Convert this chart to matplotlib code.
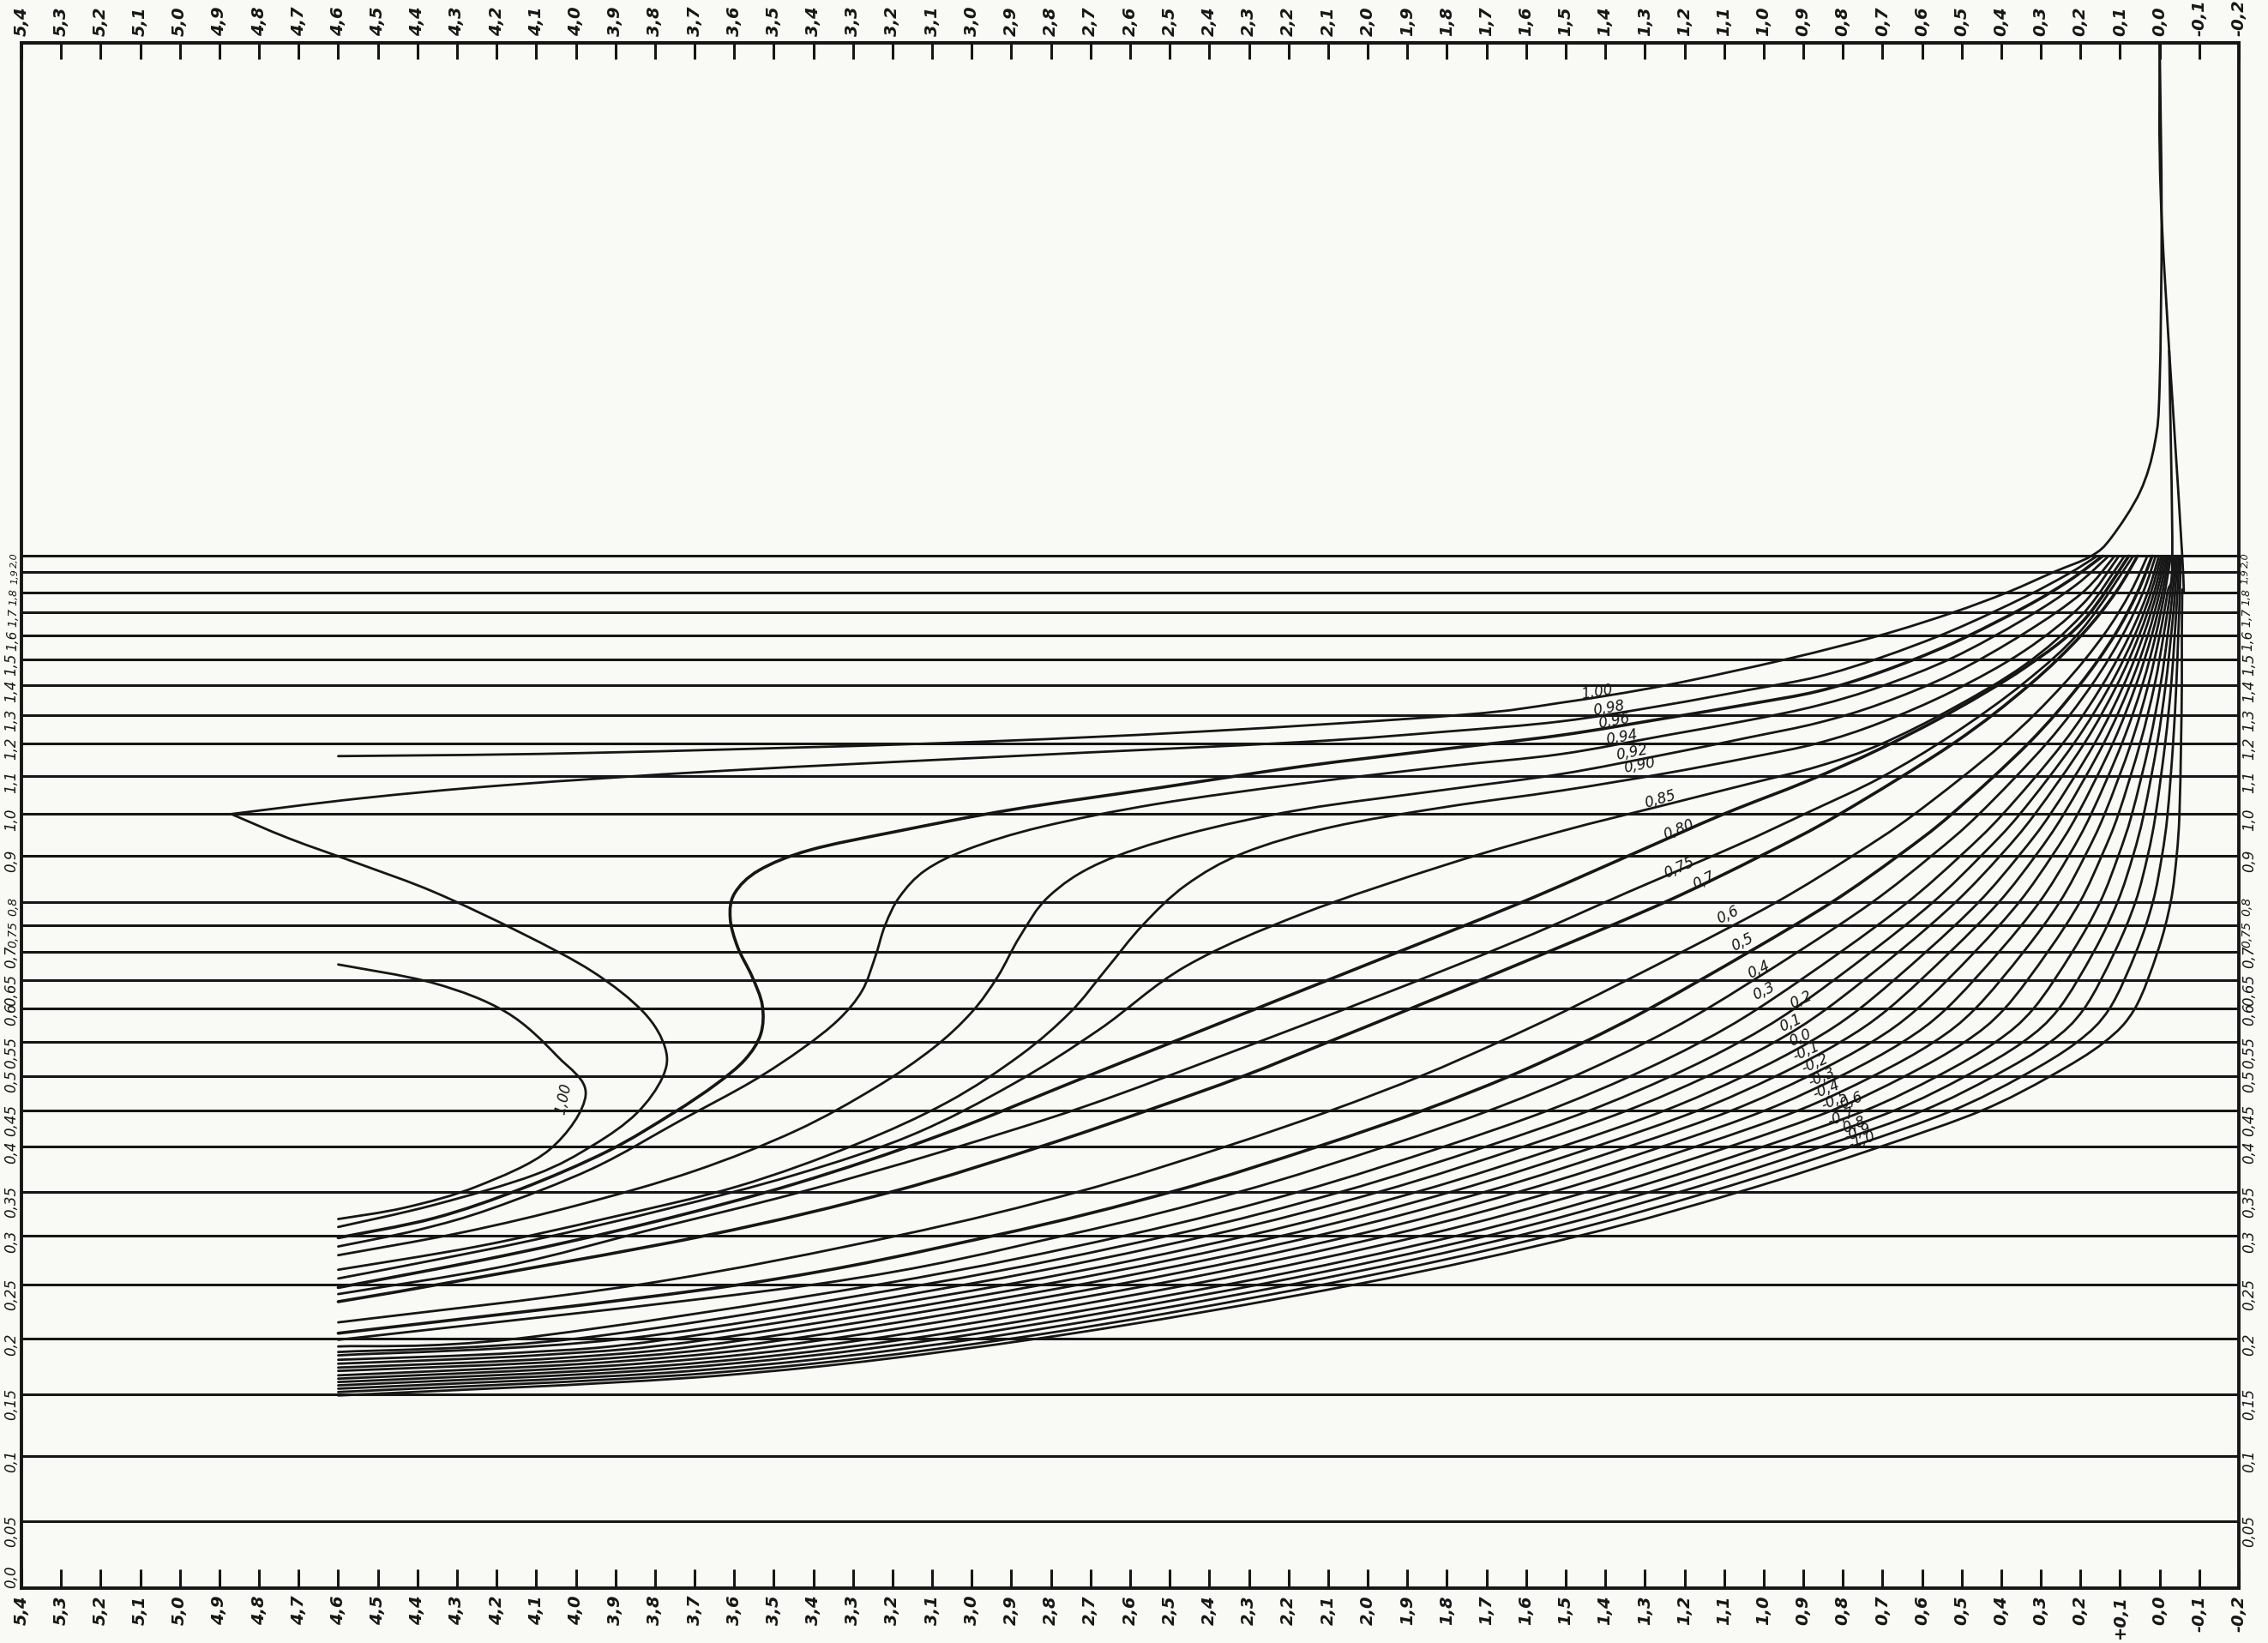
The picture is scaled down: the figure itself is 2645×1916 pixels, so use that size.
import numpy as np
import matplotlib
matplotlib.use("Agg")
import matplotlib.pyplot as plt
from matplotlib.path import Path
from matplotlib.patches import PathPatch

plt.rcParams['font.family'] = ['DejaVu Sans']
plt.rcParams['font.style'] = 'italic'

INK = '#161616'
PAPER = '#f9f9f6'

# ---------------------------------------------------------------- ruling
levels = [0.0, 0.05, 0.1, 0.15, 0.2, 0.25, 0.3, 0.35, 0.4, 0.45, 0.5, 0.55,
          0.6, 0.65, 0.7, 0.75, 0.8, 0.9, 1.0, 1.1, 1.2, 1.3, 1.4, 1.5, 1.6,
          1.7, 1.8, 1.9, 2.0]
level_labels = ["0,0", "0,05", "0,1", "0,15", "0,2", "0,25", "0,3", "0,35",
                "0,4", "0,45", "0,5", "0,55", "0,6", "0,65", "0,7", "0,75",
                "0,8", "0,9", "1,0", "1,1", "1,2", "1,3", "1,4", "1,5", "1,6",
                "1,7", "1,8", "1,9", "2,0"]

# the paper is ruled unevenly: drawing height of every level
scale_levels = levels + [3.0]
scale_height = [0, 46.5, 91.4, 134, 172.4, 210, 243.5, 274, 305, 330, 354,
                377.3, 400.4, 420.5, 440, 458, 474.4, 506.4, 535, 561, 584,
                603.5, 624, 642, 658.5, 674.2, 688.2, 702.2, 713.3, 1068]


def to_height(v):
    return np.interp(v, scale_levels, scale_height)


def to_level(h):
    return np.interp(h, scale_height, scale_levels)


x_ticks = [round(5.4 - 0.1 * i, 1) for i in range(57)]


def comma(v, plus=False):
    if abs(v) < 1e-9:
        return "0,0"
    s = f"{abs(v):.1f}".replace('.', ',')
    if v < 0:
        return "-" + s
    return ("+" + s) if plus else s


top_labels = [comma(v) for v in x_ticks]
bottom_labels = [comma(v, plus=(abs(v - 0.1) < 1e-9)) for v in x_ticks]

# ---------------------------------------------------------------- curves
# upper family (parameter 1,00 ... 0,75)
c100_x = [0.0, -0.005, 0.0, 0.012, 0.049, 0.122, 0.173, 0.268, 0.385, 0.523,
          0.706, 0.943, 1.247, 1.513, 1.765, 2.423, 3.080, 3.993, 4.6]
c100_y = [3.0, 2.66, 2.334, 2.221, 2.126, 2.036, 2.0, 1.9, 1.8, 1.7, 1.6,
          1.5, 1.4, 1.341, 1.3, 1.241, 1.2, 1.170, 1.161]
c100_hook_x = [4.6, 4.358, 4.176, 4.048, 3.975, 4.066, 4.249, 4.431, 4.6]
c100_hook_y = [0.677, 0.644, 0.595, 0.530, 0.473, 0.397, 0.356, 0.332, 0.319]

c098_x = [0.158, 0.231, 0.341, 0.523, 0.706, 0.863, 1.035, 1.254, 1.513,
          1.802, 2.167, 2.897, 3.628, 4.176, 4.541, 4.870]
c098_y = [2.0, 1.891, 1.777, 1.622, 1.506, 1.433, 1.385, 1.332, 1.277,
          1.241, 1.204, 1.161, 1.117, 1.077, 1.042, 1.0]
c098_back_x = [4.870, 4.724, 4.541, 4.358, 4.139, 3.957, 3.829, 3.774, 3.781,
               3.847, 3.957, 4.103, 4.358, 4.6]
c098_back_y = [1.0, 0.941, 0.880, 0.821, 0.736, 0.664, 0.595, 0.541, 0.498,
               0.446, 0.402, 0.369, 0.335, 0.310]

c096_x = [0.144, 0.231, 0.341, 0.523, 0.706, 0.863, 1.035, 1.254, 1.513,
          1.802, 2.167, 2.532, 2.897, 3.190, 3.409, 3.537, 3.599, 3.610,
          3.591, 3.555, 3.529, 3.533, 3.573, 3.646, 3.756, 3.920, 4.139,
          4.358, 4.6]
c096_y = [2.0, 1.855, 1.727, 1.567, 1.450, 1.380, 1.337, 1.287, 1.228, 1.183,
          1.130, 1.069, 1.012, 0.958, 0.913, 0.868, 0.818, 0.765, 0.708,
          0.656, 0.606, 0.562, 0.524, 0.488, 0.446, 0.395, 0.353, 0.320,
          0.298]

c094_x = [0.129, 0.213, 0.341, 0.523, 0.706, 0.863, 1.035, 1.254, 1.513,
          1.802, 2.167, 2.532, 2.824, 3.007, 3.117, 3.182, 3.219, 3.244,
          3.277, 3.336, 3.427, 3.555, 3.737, 3.957, 4.212, 4.395, 4.6]
c094_y = [2.0, 1.834, 1.673, 1.506, 1.395, 1.332, 1.282, 1.226, 1.167, 1.130,
          1.081, 1.027, 0.969, 0.916, 0.868, 0.811, 0.75, 0.690, 0.631,
          0.584, 0.541, 0.492, 0.436, 0.376, 0.331, 0.307, 0.289]

c092_x = [0.114, 0.195, 0.341, 0.523, 0.706, 0.863, 1.035, 1.254, 1.513,
          1.802, 2.167, 2.459, 2.678, 2.806, 2.879, 2.934, 3.000, 3.098,
          3.244, 3.445, 3.701, 3.993, 4.285, 4.6]
c092_y = [2.0, 1.799, 1.610, 1.444, 1.337, 1.272, 1.221, 1.165, 1.107, 1.065,
          1.012, 0.951, 0.883, 0.811, 0.728, 0.656, 0.595, 0.541, 0.483,
          0.422, 0.373, 0.335, 0.304, 0.280]

c090_x = [0.103, 0.195, 0.341, 0.523, 0.706, 0.863, 1.035, 1.254, 1.513,
          1.802, 2.094, 2.313, 2.459, 2.569, 2.660, 2.751, 2.879, 3.062,
          3.299, 3.591, 3.920, 4.249, 4.6]
c090_y = [2.0, 1.741, 1.536, 1.380, 1.272, 1.2, 1.157, 1.108, 1.062, 1.019,
          0.968, 0.906, 0.836, 0.75, 0.669, 0.595, 0.530, 0.462, 0.402,
          0.356, 0.320, 0.289, 0.265]

c085_x = [0.089, 0.195, 0.341, 0.523, 0.706, 0.863, 1.035, 1.254, 1.513,
          1.802, 2.167, 2.459, 2.678, 2.897, 3.153, 3.445, 3.774, 4.103,
          4.395, 4.6]
c085_y = [2.0, 1.692, 1.478, 1.322, 1.196, 1.130, 1.081, 1.023, 0.958, 0.880,
          0.774, 0.674, 0.569, 0.488, 0.416, 0.369, 0.330, 0.296, 0.272,
          0.256]

c080_x = [0.078, 0.195, 0.341, 0.523, 0.706, 0.889, 1.101, 1.342, 1.619,
          1.984, 2.350, 2.715, 3.080, 3.445, 3.810, 4.176, 4.6]
c080_y = [2.0, 1.660, 1.467, 1.312, 1.183, 1.088, 1.0, 0.899, 0.796, 0.682,
          0.584, 0.498, 0.416, 0.359, 0.315, 0.280, 0.247]

c075_x = [0.067, 0.195, 0.341, 0.523, 0.706, 0.889, 1.071, 1.342, 1.619,
          1.984, 2.350, 2.715, 3.080, 3.445, 3.810, 4.176, 4.6]
c075_y = [2.0, 1.629, 1.411, 1.231, 1.096, 1.004, 0.923, 0.821, 0.722, 0.619,
          0.534, 0.456, 0.394, 0.348, 0.307, 0.269, 0.241]

# lower family (parameter 0,7 ... -1,0): left end, then the abscissa
# where each curve crosses the ruled levels below
rise_levels = [0.25, 0.3, 0.35, 0.4, 0.45, 0.5, 0.55, 0.6, 0.7, 0.8, 0.9,
               1.0, 1.2, 1.4, 1.6, 1.8, 2.0]

p07_start = ([4.6], [0.234])
p07_cross = [4.344, 3.675, 3.201, 2.828, 2.558, 2.313, 2.101, 1.893, 1.542,
             1.247, 1.005, 0.808, 0.520, 0.330, 0.198, 0.111, 0.056]
p06_start = ([4.6], [0.215])
p06_cross = [3.834, 3.189, 2.730, 2.361, 2.094, 1.865, 1.670, 1.490, 1.204,
             0.966, 0.774, 0.619, 0.394, 0.245, 0.142, 0.074, 0.031]
p05_start = ([4.6], [0.205])
p05_cross = [3.580, 2.946, 2.494, 2.128, 1.862, 1.640, 1.454, 1.289, 1.035,
             0.826, 0.659, 0.525, 0.331, 0.203, 0.114, 0.056, 0.019]
p04_start = ([4.6], [0.199])
p04_cross = [3.394, 2.769, 2.323, 1.958, 1.694, 1.477, 1.297, 1.143, 0.912,
             0.724, 0.575, 0.456, 0.285, 0.172, 0.094, 0.042, 0.010]
p03_start = ([4.6, 4.15], [0.193, 0.2])
p03_cross = [3.232, 2.615, 2.173, 1.809, 1.546, 1.335, 1.160, 1.015, 0.804,
             0.635, 0.502, 0.396, 0.244, 0.145, 0.076, 0.030, 0.002]
p02_start = ([4.6, 4.00], [0.188, 0.2])
p02_cross = [3.117, 2.504, 2.066, 1.703, 1.441, 1.233, 1.062, 0.923, 0.727,
             0.571, 0.450, 0.353, 0.216, 0.125, 0.063, 0.022, -0.004]
p01_start = ([4.6, 3.876], [0.185, 0.2])
p01_cross = [3.012, 2.405, 1.970, 1.608, 1.346, 1.141, 0.973, 0.841, 0.658,
             0.514, 0.402, 0.315, 0.190, 0.108, 0.052, 0.014, -0.009]
p00_start = ([4.6, 4.132, 3.756], [0.181, 0.1876, 0.2])
p00_cross = [2.908, 2.305, 1.874, 1.512, 1.251, 1.049, 0.885, 0.758, 0.589,
             0.456, 0.355, 0.276, 0.164, 0.091, 0.041, 0.007, -0.014]
m01_start = ([4.6, 4.077, 3.650], [0.1775, 0.1855, 0.2])
m01_cross = [2.815, 2.217, 1.788, 1.427, 1.167, 0.968, 0.807, 0.685, 0.528,
             0.405, 0.313, 0.242, 0.141, 0.075, 0.030, 0.000, -0.019]
m02_start = ([4.6, 4.022, 3.551], [0.174, 0.183, 0.2])
m02_cross = [2.723, 2.129, 1.702, 1.343, 1.082, 0.886, 0.728, 0.612, 0.466,
             0.354, 0.271, 0.207, 0.118, 0.060, 0.020, -0.007, -0.023]
m03_start = ([4.6, 3.968, 3.453], [0.171, 0.181, 0.2])
m03_cross = [2.630, 2.040, 1.617, 1.258, 0.998, 0.805, 0.650, 0.539, 0.405,
             0.303, 0.229, 0.173, 0.095, 0.044, 0.010, -0.013, -0.028]
m04_start = ([4.6, 3.913, 3.354], [0.167, 0.179, 0.2])
m04_cross = [2.538, 1.952, 1.531, 1.173, 0.914, 0.723, 0.571, 0.466, 0.343,
             0.252, 0.188, 0.139, 0.072, 0.029, 0.000, -0.020, -0.032]
m05_start = ([4.6, 3.858, 3.252], [0.164, 0.177, 0.2])
m05_cross = [2.445, 1.864, 1.445, 1.088, 0.829, 0.642, 0.493, 0.392, 0.282,
             0.201, 0.146, 0.104, 0.049, 0.013, -0.010, -0.027, -0.037]
m06_start = ([4.6, 3.803, 3.157], [0.161, 0.175, 0.2])
m06_cross = [2.352, 1.775, 1.360, 1.003, 0.745, 0.560, 0.415, 0.319, 0.220,
             0.150, 0.104, 0.070, 0.026, -0.002, -0.020, -0.033, -0.041]
m07_start = ([4.6, 3.759, 3.073], [0.158, 0.173, 0.2])
m07_cross = [2.271, 1.698, 1.285, 0.929, 0.671, 0.489, 0.346, 0.255, 0.166,
             0.106, 0.067, 0.040, 0.006, -0.015, -0.029, -0.039, -0.045]
m08_start = ([4.6, 3.708, 2.985], [0.155, 0.171, 0.2])
m08_cross = [2.190, 1.621, 1.210, 0.855, 0.598, 0.418, 0.277, 0.191, 0.113,
             0.061, 0.030, 0.010, -0.014, -0.029, -0.038, -0.045, -0.049]
m09_start = ([4.6, 3.664, 2.901], [0.152, 0.169, 0.2])
m09_cross = [2.109, 1.543, 1.135, 0.780, 0.524, 0.346, 0.209, 0.127, 0.059,
             0.017, -0.006, -0.020, -0.034, -0.042, -0.047, -0.051, -0.053]
m10_start = ([4.6, 3.628, 2.835], [0.149, 0.167, 0.2])
m10_cross = [2.028, 1.466, 1.060, 0.706, 0.450, 0.275, 0.140, 0.063, 0.005,
             -0.028, -0.043, -0.050, -0.054, -0.056, -0.056, -0.057, -0.057]

# continuations above the ruled part
m04_top = ([-0.024], [2.40])
m10_top = ([-0.005, 0.0], [2.66, 3.0])

# ---------------------------------------------------------------- curve labels
label_text = ["1,00", "0,98", "0,96", "0,94", "0,92", "0,90", "0,85", "0,80",
              "0,75", "0,7", "0,6", "0,5", "0,4", "0,3", "0,2", "0,1", "0,0",
              "-0,1", "-0,2", "-0,3", "-0,4", "-0,5", "-0,6", "-0,7", "-0,8",
              "-0,9", "-1,0", "1,00"]
label_x = [1.420, 1.391, 1.378, 1.358, 1.334, 1.314, 1.261, 1.214, 1.214,
           1.152, 1.091, 1.053, 1.013, 0.999, 0.907, 0.933, 0.907, 0.892,
           0.870, 0.853, 0.842, 0.820, 0.784, 0.806, 0.777, 0.763, 0.752,
           4.030]
label_y = [1.376, 1.322, 1.277, 1.221, 1.171, 1.133, 1.038, 0.962, 0.874,
           0.846, 0.773, 0.717, 0.667, 0.630, 0.615, 0.579, 0.557, 0.536,
           0.519, 0.498, 0.481, 0.465, 0.463, 0.441, 0.429, 0.419, 0.409,
           0.467]
label_rot = [9, 10, 10, 10, 11, 11, 16, 22, 24, 26, 26, 26, 26, 26, 25, 25,
             24, 24, 23, 23, 22, 22, 22, 21, 21, 20, 20, 78]


def smooth_path(xs, ys):
    """Cubic Catmull-Rom path through the points, built in the scaled
    frame so the drawn pen line stays smooth on the uneven ruling."""
    x = np.asarray(xs, float)
    h = to_height(np.asarray(ys, float))
    pts = np.column_stack([x, h])
    ext = np.vstack([pts[0], pts, pts[-1]])
    verts = [pts[0]]
    codes = [Path.MOVETO]
    for i in range(1, len(ext) - 2):
        p0, p1, p2, p3 = ext[i - 1], ext[i], ext[i + 1], ext[i + 2]
        verts += [p1 + (p2 - p0) / 6.0, p2 - (p3 - p1) / 6.0, p2]
        codes += [Path.CURVE4] * 3
    verts = np.array(verts)
    verts[:, 1] = to_level(verts[:, 1])
    return Path(verts, codes)


# ---------------------------------------------------------------- figure
fig = plt.figure(figsize=(26.45, 19.16), dpi=100)
fig.patch.set_facecolor(PAPER)
ax = fig.add_axes([25 / 2645, 64 / 1916, 2586 / 2645, 1802 / 1916])
ax.set_facecolor(PAPER)
ax.set_yscale('function', functions=(to_height, to_level))
ax.set_xlim(5.4, -0.2)
ax.set_ylim(0.0, 3.0)

# ruled lines
for lv in levels[1:]:
    ax.axhline(lv, color=INK, lw=2.2, zorder=1)


def pen(xs, ys, lw):
    ax.add_patch(PathPatch(smooth_path(xs, ys), fill=False, edgecolor=INK,
                           lw=lw, capstyle='round', joinstyle='round',
                           zorder=2))


curve_lw = 2.0
heavy_lw = 2.6
upper = [(c100_x, c100_y, curve_lw), (c100_hook_x, c100_hook_y, curve_lw),
         (c098_x, c098_y, curve_lw), (c098_back_x, c098_back_y, curve_lw),
         (c096_x, c096_y, heavy_lw), (c094_x, c094_y, curve_lw),
         (c092_x, c092_y, curve_lw), (c090_x, c090_y, curve_lw),
         (c085_x, c085_y, curve_lw), (c080_x, c080_y, heavy_lw),
         (c075_x, c075_y, curve_lw)]
for xs, ys, lw in upper:
    pen(xs, ys, lw)

lower = [(p07_start, p07_cross, None, heavy_lw), (p06_start, p06_cross, None, curve_lw),
         (p05_start, p05_cross, None, heavy_lw), (p04_start, p04_cross, None, curve_lw),
         (p03_start, p03_cross, None, curve_lw), (p02_start, p02_cross, None, curve_lw),
         (p01_start, p01_cross, None, curve_lw), (p00_start, p00_cross, None, curve_lw),
         (m01_start, m01_cross, None, curve_lw), (m02_start, m02_cross, None, curve_lw),
         (m03_start, m03_cross, None, curve_lw), (m04_start, m04_cross, m04_top, curve_lw),
         (m05_start, m05_cross, None, curve_lw), (m06_start, m06_cross, None, curve_lw),
         (m07_start, m07_cross, None, curve_lw), (m08_start, m08_cross, None, curve_lw),
         (m09_start, m09_cross, None, curve_lw), (m10_start, m10_cross, m10_top, curve_lw)]
for start, cross, top, lw in lower:
    xs = list(start[0]) + list(cross)
    ys = list(start[1]) + list(rise_levels)
    if top is not None:
        xs += list(top[0])
        ys += list(top[1])
    pen(xs, ys, lw)

for t, lx, ly, r in zip(label_text, label_x, label_y, label_rot):
    ax.text(lx, ly, t, fontsize=12, rotation=r, ha='center', va='center',
            rotation_mode='anchor', color=INK, zorder=3)

# frame and axes
for sp in ax.spines.values():
    sp.set_linewidth(2.8)
    sp.set_color(INK)

ax.set_yticks(levels)
ax.set_yticklabels(level_labels)
ax.tick_params(axis='y', length=0, labelleft=True, labelright=True,
               labelrotation=90, labelsize=12, pad=2, colors=INK)
ax.yaxis.set_minor_locator(matplotlib.ticker.NullLocator())

# closely ruled levels get smaller lettering so neighbours do not collide
tight_size = {0.75: 10, 0.8: 10, 1.6: 11, 1.7: 10, 1.8: 9, 1.9: 8, 2.0: 8}
for lv, tick in zip(levels, ax.yaxis.get_major_ticks()):
    size = tight_size.get(lv, 12)
    tick.label1.set_fontsize(size)
    tick.label2.set_fontsize(size)
    if lv == 0.0:
        # the zero sits in the corner, written just above the bottom edge
        tick.label1.set_verticalalignment('bottom')
        tick.label2.set_visible(False)

ax.set_xticks(x_ticks)
ax.set_xticklabels(bottom_labels, fontweight='bold')
ax.tick_params(axis='x', direction='in', length=16, width=2.2,
               labelrotation=90, labelsize=14, pad=6, colors=INK)

sec = ax.secondary_xaxis('top')
sec.set_xticks(x_ticks)
sec.set_xticklabels(top_labels, fontweight='bold')
sec.tick_params(axis='x', direction='in', length=14, width=2.2,
                labelrotation=90, labelsize=14, pad=6, colors=INK)
sec.spines['top'].set_linewidth(2.8)

fig.savefig('out.png', dpi=100, facecolor=PAPER)
